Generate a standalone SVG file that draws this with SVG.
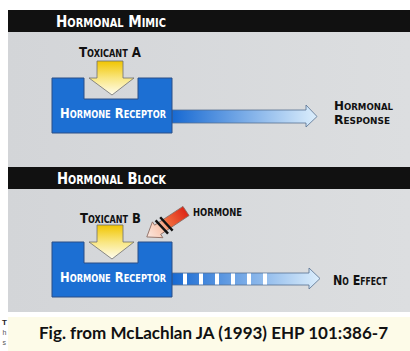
<svg xmlns="http://www.w3.org/2000/svg" width="410" height="351" viewBox="0 0 410 351">
<defs>
<linearGradient id="gray" x1="0" y1="0" x2="1" y2="0">
<stop offset="0" stop-color="#d3d5d8"/><stop offset="1" stop-color="#dcdee0"/>
</linearGradient>
<linearGradient id="yel" x1="0" y1="0" x2="0" y2="1">
<stop offset="0" stop-color="#f1c500"/><stop offset="0.5" stop-color="#f9e680"/><stop offset="1" stop-color="#fffdf0"/>
</linearGradient>
<linearGradient id="blue1" gradientUnits="userSpaceOnUse" x1="172" y1="0" x2="317" y2="0">
<stop offset="0" stop-color="#1769d2"/><stop offset="1" stop-color="#dceefc"/>
</linearGradient>
<linearGradient id="blue2" gradientUnits="userSpaceOnUse" x1="172" y1="0" x2="320" y2="0">
<stop offset="0" stop-color="#1769d2"/><stop offset="1" stop-color="#dceefc"/>
</linearGradient>
<linearGradient id="red" gradientUnits="userSpaceOnUse" x1="0" y1="0" x2="47" y2="0">
<stop offset="0" stop-color="#de2616"/><stop offset="0.45" stop-color="#f06a3c"/><stop offset="0.62" stop-color="#f8c4ac"/><stop offset="1" stop-color="#fbe8e0"/>
</linearGradient>
<style>
.hdr{fill:#111111}
.panel{fill:url(#gray)}
.rec{fill:#1c6fd3;stroke:#2b4f86;stroke-width:1}
.yarr{fill:url(#yel);stroke:#6f6f6f;stroke-width:0.8}
.barr{stroke:#55708f;stroke-width:0.8}
.t{font-family:"Liberation Sans Narrow","DejaVu Sans Condensed","Liberation Sans",sans-serif;font-weight:bold;font-variant:small-caps}
.w{fill:#ffffff}
.k{fill:#111111}
.cap{font-family:Lato,"Liberation Sans",sans-serif;font-weight:bold;fill:#111111}
</style>
</defs>
<rect width="410" height="351" fill="#ffffff"/>
<g id="panel-mimic">
<rect class="panel" x="8" y="32" width="402" height="135"/>
<rect class="hdr" x="8" y="10" width="402" height="22"/>
<text class="t w" x="56" y="27" font-size="16.5" textLength="110" lengthAdjust="spacingAndGlyphs">Hormonal Mimic</text>
</g>
<g id="panel-block">
<rect class="panel" x="8" y="189" width="402" height="123"/>
<rect class="hdr" x="8" y="167" width="402" height="22"/>
<text class="t w" x="57" y="184" font-size="16.5" textLength="109" lengthAdjust="spacingAndGlyphs">Hormonal Block</text>
</g>
<g id="connectors">
<path class="barr" fill="url(#blue1)" d="M172,110 L306,110 L306,105 L317,116.5 L306,127 L306,123 L172,123 Z"/>
<path class="barr" fill="url(#blue2)" d="M172,273 L309,273 L309,268 L320,278.5 L309,289 L309,285 L172,285 Z"/>
<g fill="#ffffff">
<rect x="183" y="273.5" width="4" height="11"/><rect x="199" y="273.5" width="4" height="11"/><rect x="215" y="273.5" width="4" height="11"/><rect x="231" y="273.5" width="4" height="11"/><rect x="247" y="273.5" width="4" height="11"/><rect x="263" y="273.5" width="4" height="11"/>
</g>
</g>
<g id="receptor-1">
<path class="rec" d="M52,78 L84,78 L84,99 L138,99 L138,78 L172,78 L172,133 L52,133 Z"/>
<text class="t w" x="60" y="117.5" font-size="14" textLength="106" lengthAdjust="spacingAndGlyphs">Hormone Receptor</text>
</g>
<g id="toxicant-a">
<text class="t k" x="79" y="57" font-size="14.5" textLength="62" lengthAdjust="spacingAndGlyphs">Toxicant A</text>
<path class="yarr" d="M97,61 L123,61 L123,78 L134,78 L112,95 L89,78 L97,78 Z"/>
</g>
<g id="response">
<text class="t k" font-size="12.5"><tspan x="334" y="110" textLength="59" lengthAdjust="spacingAndGlyphs">Hormonal</tspan><tspan x="334" y="124.2" textLength="56" lengthAdjust="spacingAndGlyphs">Response</tspan></text>
</g>
<g id="receptor-2">
<path class="rec" d="M52,242 L84,242 L84,263 L138,263 L138,242 L172,242 L172,297 L52,297 Z"/>
<text class="t w" x="60" y="282" font-size="14" textLength="106" lengthAdjust="spacingAndGlyphs">Hormone Receptor</text>
</g>
<g id="toxicant-b">
<text class="t k" x="80" y="223" font-size="14.5" textLength="61" lengthAdjust="spacingAndGlyphs">Toxicant B</text>
<path class="yarr" d="M97,225 L123,225 L123,242 L134,242 L112,259 L89,242 L97,242 Z"/>
</g>
<g id="hormone">
<text x="193" y="216" font-family="Liberation Sans Narrow,DejaVu Sans Condensed,Liberation Sans,sans-serif" font-weight="bold" fill="#111" font-size="11" textLength="49" lengthAdjust="spacingAndGlyphs">HORMONE</text>
<g transform="translate(186,211) rotate(146.5)">
<path fill="url(#red)" stroke="#8a6a60" stroke-width="0.8" d="M0,-5.5 L34,-5.5 L34,-9.5 L47,0 L34,9.5 L34,5.5 L0,5.5 Z"/>
<line x1="22" y1="-9" x2="25" y2="9" stroke="#111" stroke-width="2.4"/>
<line x1="27.5" y1="-9" x2="30.5" y2="9" stroke="#111" stroke-width="2.4"/>
</g>
</g>
<g id="no-effect">
<text class="t k" x="333" y="285" font-size="14.5" textLength="54" lengthAdjust="spacingAndGlyphs">No Effect</text>
</g>
<g id="caption">
<rect x="8" y="317" width="402" height="34" fill="#fdfbe8"/>
<text x="2" y="325" font-family="Liberation Sans Narrow,Liberation Sans,sans-serif" font-size="8" font-weight="bold" fill="#222">T</text>
<text x="2.5" y="335" font-family="Liberation Sans Narrow,Liberation Sans,sans-serif" font-size="7" fill="#555">h</text>
<text x="2.5" y="345" font-family="Liberation Sans Narrow,Liberation Sans,sans-serif" font-size="7" fill="#555">s</text>
<text class="cap" x="39" y="339" font-size="17.5" textLength="349" lengthAdjust="spacingAndGlyphs">Fig. from McLachlan JA (1993) EHP 101:386-7</text>
</g>
</svg>
